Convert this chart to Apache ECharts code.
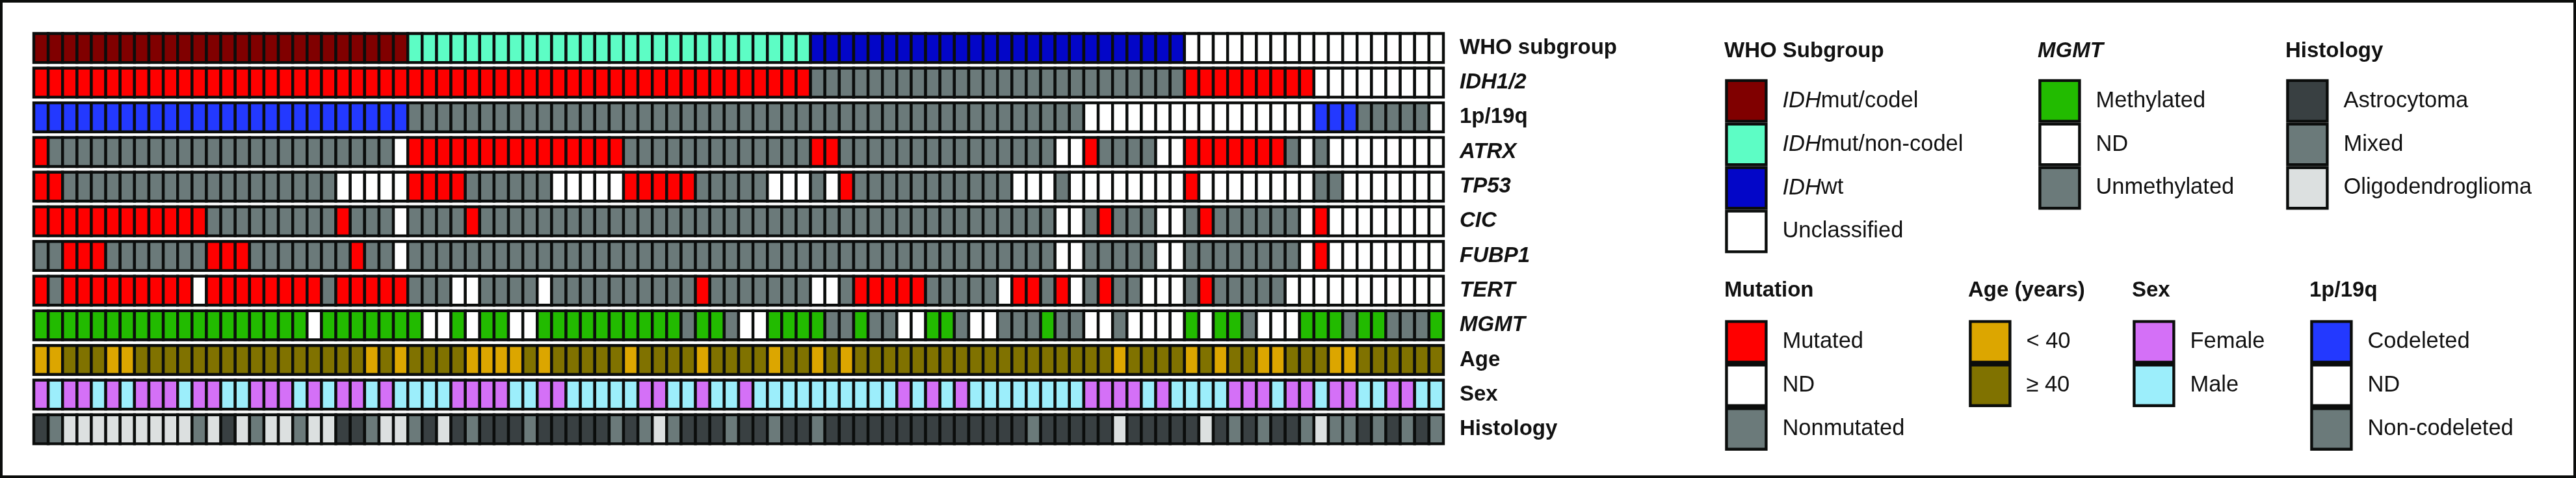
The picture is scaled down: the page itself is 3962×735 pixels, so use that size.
<!DOCTYPE html>
<html>
<head>
<meta charset="utf-8">
<script src="https://cdn.jsdelivr.net/npm/echarts@6/dist/echarts.min.js"></script>
<style>
html,body{margin:0;padding:0;background:#fff;}
#chart{width:3962px;height:735px;}
</style>
</head>
<body>
<div id="chart"></div>
<script>
// ---------------- DATA ----------------
const rowLabels = ['WHO subgroup','IDH1/2','1p/19q','ATRX','TP53','CIC','FUBP1','TERT','MGMT','Age','Sex','Histology'];
const rowItalic = [false,true,false,true,true,true,true,true,true,false,false,false];

// WHO subgroup: C = IDHmut/codel, N = IDHmut/non-codel, W = IDHwt, U = Unclassified
const whoSubgroup = [
 'C','C','C','C','C','C','C','C','C','C',
 'C','C','C','C','C','C','C','C','C','C',
 'C','C','C','C','C','C','N','N','N','N',
 'N','N','N','N','N','N','N','N','N','N',
 'N','N','N','N','N','N','N','N','N','N',
 'N','N','N','N','W','W','W','W','W','W',
 'W','W','W','W','W','W','W','W','W','W',
 'W','W','W','W','W','W','W','W','W','W',
 'U','U','U','U','U','U','U','U','U','U',
 'U','U','U','U','U','U','U','U'];
// Mutation rows: M = Mutated, D = ND, G = Nonmutated
const idh12 = [
 'M','M','M','M','M','M','M','M','M','M',
 'M','M','M','M','M','M','M','M','M','M',
 'M','M','M','M','M','M','M','M','M','M',
 'M','M','M','M','M','M','M','M','M','M',
 'M','M','M','M','M','M','M','M','M','M',
 'M','M','M','M','G','G','G','G','G','G',
 'G','G','G','G','G','G','G','G','G','G',
 'G','G','G','G','G','G','G','G','G','G',
 'M','M','M','M','M','M','M','M','M','D',
 'D','D','D','D','D','D','D','D'];
// 1p/19q: C = Codeleted, D = ND, G = Non-codeleted
const codel1p19q = [
 'C','C','C','C','C','C','C','C','C','C',
 'C','C','C','C','C','C','C','C','C','C',
 'C','C','C','C','C','C','G','G','G','G',
 'G','G','G','G','G','G','G','G','G','G',
 'G','G','G','G','G','G','G','G','G','G',
 'G','G','G','G','G','G','G','G','G','G',
 'G','G','G','G','G','G','G','G','G','G',
 'G','G','G','D','D','D','D','D','D','D',
 'D','D','D','D','D','D','D','D','D','C',
 'C','C','G','G','G','G','G','D'];
const atrx = [
 'M','G','G','G','G','G','G','G','G','G',
 'G','G','G','G','G','G','G','G','G','G',
 'G','G','G','G','G','D','M','M','M','M',
 'M','M','M','M','M','M','M','M','M','M',
 'M','G','G','G','G','G','G','G','G','G',
 'G','G','G','G','M','M','G','G','G','G',
 'G','G','G','G','G','G','G','G','G','G',
 'G','D','D','M','G','G','G','G','D','D',
 'M','M','M','M','M','M','M','G','D','G',
 'D','D','D','D','D','D','D','D'];
const tp53 = [
 'M','M','G','G','G','G','G','G','G','G',
 'G','G','G','G','G','G','G','G','G','G',
 'G','D','D','D','D','D','M','M','M','M',
 'G','G','G','G','G','G','D','D','D','D',
 'D','M','M','M','M','M','G','G','G','G',
 'G','D','D','D','G','D','M','G','G','G',
 'G','G','G','G','G','G','G','G','D','D',
 'D','G','D','D','D','D','D','D','D','D',
 'M','D','D','D','D','D','D','D','D','G',
 'G','D','D','D','D','D','D','D'];
const cic = [
 'M','M','M','M','M','M','M','M','M','M',
 'M','M','G','G','G','G','G','G','G','G',
 'G','M','G','G','G','D','G','G','G','G',
 'M','G','G','G','G','G','G','G','G','G',
 'G','G','G','G','G','G','G','G','G','G',
 'G','G','G','G','G','G','G','G','G','G',
 'G','G','G','G','G','G','G','G','G','G',
 'G','D','D','G','M','G','G','G','D','D',
 'G','M','G','G','G','G','G','G','D','M',
 'D','D','D','D','D','D','D','D'];
const fubp1 = [
 'G','G','M','M','M','G','G','G','G','G',
 'G','G','M','M','M','G','G','G','G','G',
 'G','G','M','G','G','D','G','G','G','G',
 'G','G','G','G','G','G','G','G','G','G',
 'G','G','G','G','G','G','G','G','G','G',
 'G','G','G','G','G','G','G','G','G','G',
 'G','G','G','G','G','G','G','G','G','G',
 'G','D','D','G','G','G','G','G','D','D',
 'G','G','G','G','G','G','G','G','D','M',
 'D','D','D','D','D','D','D','D'];
const tert = [
 'M','G','M','M','M','M','M','M','M','M',
 'M','D','M','M','M','M','M','M','M','M',
 'G','M','M','M','M','M','G','G','G','D',
 'D','G','G','G','G','D','G','G','G','G',
 'G','G','G','G','G','G','M','G','G','G',
 'G','G','G','G','D','D','G','M','M','M',
 'M','M','G','G','G','G','G','D','M','M',
 'G','M','D','G','M','G','G','D','D','D',
 'G','M','G','G','G','G','G','D','D','D',
 'D','D','D','D','D','D','D','D'];
// MGMT: M = Methylated, D = ND, G = Unmethylated
const mgmt = [
 'M','M','M','M','M','M','M','M','M','M',
 'M','M','M','M','M','M','M','M','M','D',
 'M','M','M','M','M','M','M','D','D','M',
 'D','M','M','D','D','M','M','M','M','M',
 'M','M','M','M','M','G','M','M','G','D',
 'D','M','M','M','M','G','G','M','G','G',
 'D','D','M','M','G','D','D','G','G','G',
 'M','G','G','D','D','G','D','D','D','D',
 'M','D','M','M','G','D','D','D','M','M',
 'M','G','M','M','G','G','G','M'];
// Age: Y = < 40, O = >= 40
const age = [
 'Y','Y','O','O','O','Y','Y','O','O','O',
 'O','O','O','O','O','O','O','O','O','O',
 'O','O','O','Y','O','Y','O','O','O','O',
 'Y','Y','Y','Y','O','Y','O','O','O','O',
 'O','Y','O','O','O','O','Y','O','O','O',
 'O','Y','O','O','Y','O','Y','O','O','O',
 'O','O','O','O','O','O','O','O','O','O',
 'O','O','O','O','O','Y','O','O','O','O',
 'Y','O','Y','O','O','Y','Y','O','O','O',
 'Y','Y','O','O','O','O','O','O'];
// Sex: F = Female, M = Male
const sex = [
 'F','M','F','F','M','F','M','F','F','F',
 'M','F','F','M','M','F','F','F','M','F',
 'M','F','F','M','F','M','M','M','M','F',
 'F','F','F','M','M','F','F','M','M','M',
 'M','M','F','F','M','M','F','M','M','F',
 'M','M','M','M','M','M','M','M','M','M',
 'F','M','F','M','F','M','M','M','M','M',
 'M','M','M','F','F','F','F','M','F','M',
 'M','M','M','F','F','F','M','F','F','M',
 'F','F','M','M','F','F','M','M'];
// Histology: A = Astrocytoma, X = Mixed, O = Oligodendroglioma
const histology = [
 'A','X','O','O','O','O','O','O','O','O',
 'O','X','O','A','O','X','O','O','X','O',
 'O','A','A','X','O','O','X','A','O','A',
 'X','A','A','A','X','A','A','A','A','A',
 'X','A','X','O','X','A','A','A','X','A',
 'A','X','A','A','X','A','A','A','A','A',
 'A','A','A','A','A','A','A','A','A','X',
 'A','A','A','A','A','O','A','A','A','A',
 'A','O','A','X','A','X','A','A','X','O',
 'X','X','A','X','A','X','A','X'];

// ---------------- STYLES ----------------
const GRAY = '#6B7A7A';
const whoColors   = {C:'#800000', N:'#5DFDC5', W:'#0306C8', U:'#FFFFFF'};
const mutColors   = {M:'#FF0000', D:'#FFFFFF', G:GRAY};
const codelColors = {C:'#2339FF', D:'#FFFFFF', G:GRAY};
const mgmtColors  = {M:'#22BB00', D:'#FFFFFF', G:GRAY};
const ageColors   = {Y:'#DCA600', O:'#807200'};
const sexColors   = {F:'#D470F7', M:'#9CEEFB'};
const histColors  = {A:'#394042', X:GRAY, O:'#DCE0E0'};

const rows = [
  [whoSubgroup, whoColors], [idh12, mutColors], [codel1p19q, codelColors],
  [atrx, mutColors], [tp53, mutColors], [cic, mutColors], [fubp1, mutColors],
  [tert, mutColors], [mgmt, mgmtColors], [age, ageColors], [sex, sexColors],
  [histology, histColors]
];

const legendGroups = [
  {title:'WHO Subgroup', italic:false, items:[['IDHmut/codel',whoColors.C],['IDHmut/non-codel',whoColors.N],['IDHwt',whoColors.W],['Unclassified',whoColors.U]]},
  {title:'MGMT', italic:true, items:[['Methylated',mgmtColors.M],['ND','#FFFFFF'],['Unmethylated',GRAY]]},
  {title:'Histology', italic:false, items:[['Astrocytoma',histColors.A],['Mixed',GRAY],['Oligodendroglioma',histColors.O]]},
  {title:'Mutation', italic:false, items:[['Mutated',mutColors.M],['ND','#FFFFFF'],['Nonmutated',GRAY]]},
  {title:'Age (years)', italic:false, items:[['< 40',ageColors.Y],['\u2265 40',ageColors.O]]},
  {title:'Sex', italic:false, items:[['Female',sexColors.F],['Male',sexColors.M]]},
  {title:'1p/19q', italic:false, items:[['Codeleted',codelColors.C],['ND','#FFFFFF'],['Non-codeleted',GRAY]]}
];
// layout (outer-left x of swatch column, swatch outer top, title centre y)
const legendLayout = [
  {x:2651, top:119.5, ty:78.6},
  {x:3133, top:119.5, ty:78.6},
  {x:3514, top:119.5, ty:78.6},
  {x:2651, top:490, ty:447},
  {x:3026, top:490, ty:447},
  {x:3278, top:490, ty:447},
  {x:3551, top:490, ty:447}
];

const FONT = 'Liberation Sans, Arial, Helvetica, sans-serif';
const INK = '#0B0D0C';
const SWW = 61, SWH = 62.5, BW = 4.4;

// ---------------- BUILD ----------------
const samples = whoSubgroup.map((_, i) => 'P' + (i + 1));
const cells = [];
rows.forEach(([vals, pal], r) => {
  vals.forEach((v, c) => cells.push({value:[c, r], itemStyle:{color: pal[v]}}));
});

const series = [{
  type:'custom',
  name:'oncoprint',
  coordinateSystem:'cartesian2d',
  encode:{x:0, y:1},
  data: cells,
  renderItem: function (params, api) {
    const p = api.coord([api.value(0), api.value(1)]);
    const s = api.size([1, 1]);
    const w = s[0], h = s[1] - 8.7;
    return {
      type:'rect',
      shape:{x:p[0] - s[0] / 2, y:p[1] - h / 2, width:w, height:h},
      style:{fill: api.visual('color'), stroke: INK, lineWidth: BW}
    };
  }
}];

const seen = {};
legendGroups.forEach(g => g.items.forEach(([name, color]) => {
  if (seen[name]) return;
  seen[name] = true;
  series.push({type:'scatter', name:name, data:[],
    itemStyle:{color:color, opacity:1, borderColor:INK, borderWidth:BW}});
}));

const legends = legendGroups.map((g, k) => ({
  orient:'vertical',
  left: legendLayout[k].x + BW / 2,
  top: legendLayout[k].top + BW / 2,
  padding:0,
  itemWidth:SWW, itemHeight:SWH, itemGap:0,
  icon:'rect',
  selectedMode:false,
  itemStyle:{borderColor:INK, borderWidth:BW, opacity:1},
  textStyle:{fontSize:34.5, color:'#111', fontFamily:FONT, padding:[0,0,0,20],
    rich:{i:{fontStyle:'italic', fontSize:34.5, color:'#111', fontFamily:FONT}}},
  formatter: name => name.indexOf('IDH') === 0 ? '{i|IDH}' + name.slice(3) : name,
  data: g.items.map(it => it[0])
}));

const graphics = [
  {type:'rect', shape:{x:2, y:2, width:3958, height:731}, style:{fill:'none', stroke:INK, lineWidth:4}, silent:true}
];
legendGroups.forEach((g, k) => {
  graphics.push({type:'text', x:legendLayout[k].x + 1, y:legendLayout[k].ty,
    style:{text:g.title, fill:'#111', fontFamily:FONT, fontSize:33, fontWeight:'bold',
      fontStyle: g.italic ? 'italic' : 'normal', verticalAlign:'middle', align:'left'}});
});

const chart = echarts.init(document.getElementById('chart'), null, {renderer:'canvas'});
chart.setOption({
  animation:false,
  backgroundColor:'#ffffff',
  grid:{left:52, top:47.15, width:2168, height:639.6, containLabel:false},
  xAxis:{type:'category', data:samples, show:false},
  yAxis:{type:'category', data:rowLabels, inverse:true, position:'right',
    axisLine:{show:false}, axisTick:{show:false}, splitLine:{show:false},
    axisLabel:{interval:0, margin:25, align:'left', color:'#111',
      formatter:(v, i) => rowItalic[i] ? '{i|' + v + '}' : '{b|' + v + '}',
      rich:{
        b:{fontSize:33, fontWeight:'bold', fontFamily:FONT, color:'#111'},
        i:{fontSize:33, fontWeight:'bold', fontStyle:'italic', fontFamily:FONT, color:'#111'}
      }}},
  legend: legends,
  graphic: graphics,
  series: series
});
</script>
</body>
</html>
